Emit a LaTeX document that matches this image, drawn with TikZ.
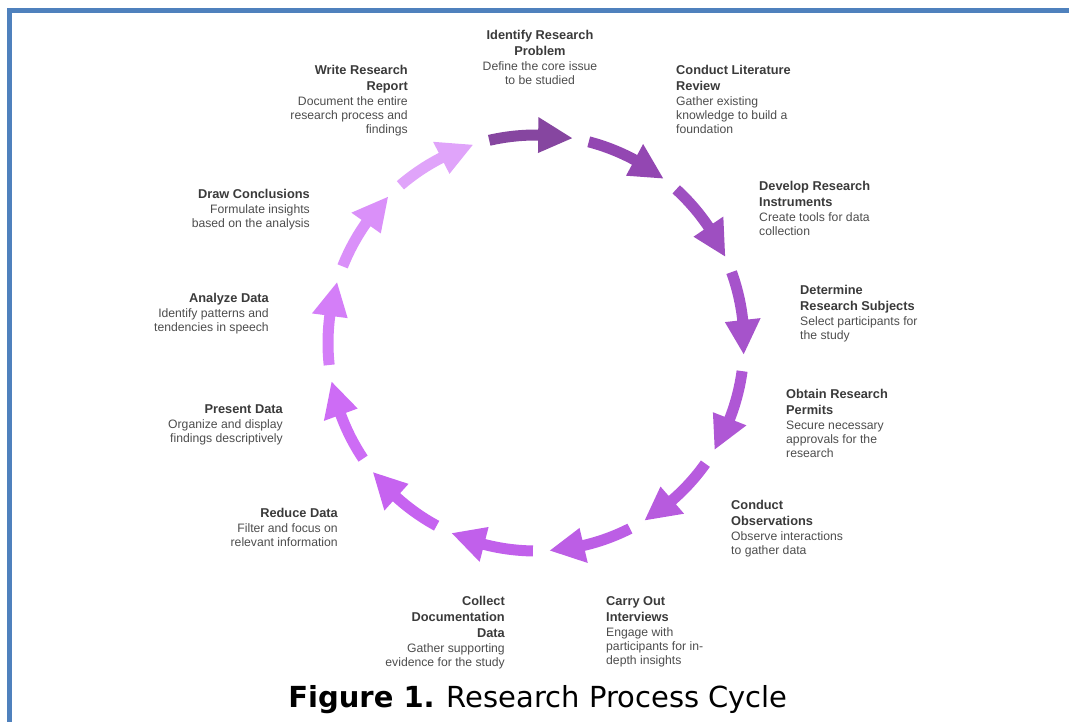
\documentclass[tikz,border=0pt]{standalone}
\usepackage{fontspec}
\setmainfont{Liberation Sans}
\newfontfamily\captionfont{DejaVu Sans}
\usetikzlibrary{positioning}

\definecolor{framecolor}{HTML}{4F81BD}
\definecolor{titlegray}{HTML}{3A3A3A}
\definecolor{descgray}{HTML}{4D4D4D}

\newcommand\steptitle[1]{{\fontsize{12.8}{16}\selectfont\bfseries\color{titlegray}#1}}

\begin{document}
\begin{tikzpicture}[x=1pt,y=1pt,
    steplabel/.style={inner sep=0pt, text=descgray,
                      font={\fontsize{12.2}{14}\selectfont}},
    leftlabel/.style={steplabel, anchor=north west, align=left},
    rightlabel/.style={steplabel, anchor=north east, align=right}]
\useasboundingbox (0,0) rectangle (1069,-722);
\draw[framecolor, line width=5pt] (9,-722) -- (9,-11) -- (1069,-11);

\coordinate (hub) at (536,-343);
\begin{scope}[shift={(hub)}]
\foreach \hex [count=\k from 0] in {8646A0,9347B2,9E4FC1,A653CB,AF57D5,B75BDE,
    BC5EE5,C160EB,C663F0,CD6CF5,D47EF8,DA90F9,E0A4FA}{
  \pgfmathsetmacro\s{103-\k*360/13}
  \pgfmathsetmacro\b{\s-13.6}
  \pgfmathsetmacro\e{\s-23}
  \definecolor{arrowfill}{HTML}{\hex}
  \fill[arrowfill] (\s:213.5pt) arc[start angle=\s, end angle=\b, radius=213.5pt]
    -- (\b:226pt) -- (\e:208pt) -- (\b:190pt) -- (\b:202.5pt)
    arc[start angle=\b, end angle=\s, radius=202.5pt] -- cycle;
}
\end{scope}

\node[steplabel, anchor=north, align=center] (problem) at (540,-30)
  {\steptitle{Identify Research}\\[2pt]\steptitle{Problem}\\[1pt]Define the core issue\\to be studied};
\node[leftlabel] (review) at (676,-65)
  {\steptitle{Conduct Literature}\\[2pt]\steptitle{Review}\\[1pt]Gather existing\\knowledge to build a\\foundation};
\node[leftlabel] (instruments) at (759,-181)
  {\steptitle{Develop Research}\\[2pt]\steptitle{Instruments}\\[1pt]Create tools for data\\collection};
\node[leftlabel] (subjects) at (800,-285)
  {\steptitle{Determine}\\[2pt]\steptitle{Research Subjects}\\[1pt]Select participants for\\the study};
\node[leftlabel] (permits) at (786,-389)
  {\steptitle{Obtain Research}\\[2pt]\steptitle{Permits}\\[1pt]Secure necessary\\approvals for the\\research};
\node[leftlabel] (observations) at (731,-500)
  {\steptitle{Conduct}\\[2pt]\steptitle{Observations}\\[1pt]Observe interactions\\to gather data};
\node[leftlabel] (interviews) at (606,-596)
  {\steptitle{Carry Out}\\[2pt]\steptitle{Interviews}\\[1pt]Engage with\\participants for in-\\depth insights};
\node[rightlabel] (documentation) at (505,-596)
  {\steptitle{Collect}\\[2pt]\steptitle{Documentation}\\[2pt]\steptitle{Data}\\[1pt]Gather supporting\\evidence for the study};
\node[rightlabel] (reduce) at (338,-508)
  {\steptitle{Reduce Data}\\[1pt]Filter and focus on\\relevant information};
\node[rightlabel] (present) at (283,-404)
  {\steptitle{Present Data}\\[1pt]Organize and display\\findings descriptively};
\node[rightlabel] (analyze) at (269,-293)
  {\steptitle{Analyze Data}\\[1pt]Identify patterns and\\tendencies in speech};
\node[rightlabel] (conclusions) at (310,-189)
  {\steptitle{Draw Conclusions}\\[1pt]Formulate insights\\based on the analysis};
\node[rightlabel] (report) at (408,-65)
  {\steptitle{Write Research}\\[2pt]\steptitle{Report}\\[1pt]Document the entire\\research process and\\findings};

\node[anchor=base, inner sep=0pt, font={\captionfont\fontsize{29}{34}\selectfont}] (caption)
  at (538,-707) {\textbf{Figure 1.} Research Process Cycle};
\end{tikzpicture}
\end{document}
